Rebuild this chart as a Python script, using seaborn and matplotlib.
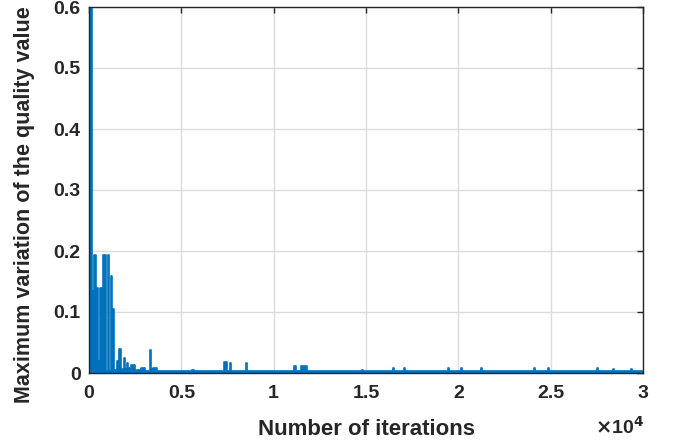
import matplotlib
matplotlib.use("Agg")
import matplotlib.pyplot as plt
import seaborn as sns
import pandas as pd

# step start iteration and value held until the next start
iterations = [0, 145, 200, 290, 380, 415, 470, 600, 690, 775, 905, 1010, 1085,
              1190, 1265, 1340, 1510, 1590, 1650, 1730, 1900, 1940, 2080, 2110,
              2290, 2480, 2840, 3030, 3290, 3350, 3470, 3660, 5600, 5660,
              7310, 7490, 7610, 7700, 8480, 8550, 11120, 11210, 11480, 11810,
              14800, 14860, 16440, 16500, 17070, 17130, 19460, 19520, 20150, 20210,
              21210, 21270, 24110, 24170, 24860, 24920, 27510, 27570, 28370, 28430,
              29360, 29420, 30000]
max_variation = [0.65, 0.134, 0.118, 0.194, 0.01, 0.14, 0.02, 0.14, 0.005, 0.194, 0.003, 0.194, 0.003,
                 0.159, 0.105, 0.005, 0.02, 0.008, 0.039, 0.006, 0.025, 0.006, 0.016, 0.008,
                 0.013, 0.005, 0.008, 0.004, 0.038, 0.006, 0.008, 0.003, 0.005, 0.003,
                 0.0185, 0.003, 0.017, 0.003, 0.016, 0.003, 0.012, 0.003, 0.012, 0.003,
                 0.005, 0.003, 0.008, 0.003, 0.008, 0.003, 0.008, 0.003, 0.008, 0.003,
                 0.008, 0.003, 0.008, 0.003, 0.008, 0.003, 0.008, 0.003, 0.007, 0.003,
                 0.007, 0.003, 0.003]

x_ticks = [0, 5000, 10000, 15000, 20000, 25000, 30000]
x_tick_labels = ["0", "0.5", "1", "1.5", "2", "2.5", "3"]
y_ticks = [0, 0.1, 0.2, 0.3, 0.4, 0.5, 0.6]
y_tick_labels = ["0", "0.1", "0.2", "0.3", "0.4", "0.5", "0.6"]

df = pd.DataFrame({"iteration": iterations, "variation": max_variation})

sns.set_style("white")
plt.rcParams["font.family"] = ["Liberation Sans", "DejaVu Sans"]
plt.rcParams["font.weight"] = "bold"
text_col = "#262626"
line_col = "#0072BD"

fig = plt.figure(figsize=(6.78, 4.45), dpi=100)
ax = fig.add_axes([89 / 678, 1 - 373 / 445, (643 - 89) / 678, (373 - 7) / 445])

sns.lineplot(data=df, x="iteration", y="variation", ax=ax, estimator=None,
             color=line_col, linewidth=1.2, drawstyle="steps-post")
# the dense oscillation in the original reads as solid blocks
ax.fill_between(df["iteration"], df["variation"], step="post", color=line_col, linewidth=0)

ax.set_xlim(0, 30000)
ax.set_ylim(0, 0.6)
ax.set_xticks(x_ticks)
ax.set_xticklabels(x_tick_labels)
ax.set_yticks(y_ticks)
ax.set_yticklabels(y_tick_labels)
ax.grid(True, color="#dcdcdc", linewidth=1)
ax.set_axisbelow(True)
ax.tick_params(direction="in", top=True, right=True, length=4, width=1,
               colors=text_col, labelsize=14)
ax.tick_params(axis="x", pad=9)
ax.tick_params(axis="y", pad=6)
for lab in ax.get_xticklabels() + ax.get_yticklabels():
    lab.set_fontweight("bold")
for s in ax.spines.values():
    s.set_color(text_col)
    s.set_linewidth(1)

ax.set_xlabel("Number of iterations", fontsize=16, fontweight="bold", color=text_col, labelpad=12)
ax.set_ylabel("Maximum variation of the quality value", fontsize=15.5, fontweight="bold",
              color=text_col)
ax.yaxis.set_label_coords(-0.097, 0.46)
ax.text(0.957, -0.148, r"$\times$10$^{4}$", transform=ax.transAxes, fontsize=14,
        fontweight="bold", color=text_col, ha="center", va="center")

fig.savefig("out.png", dpi=100)
